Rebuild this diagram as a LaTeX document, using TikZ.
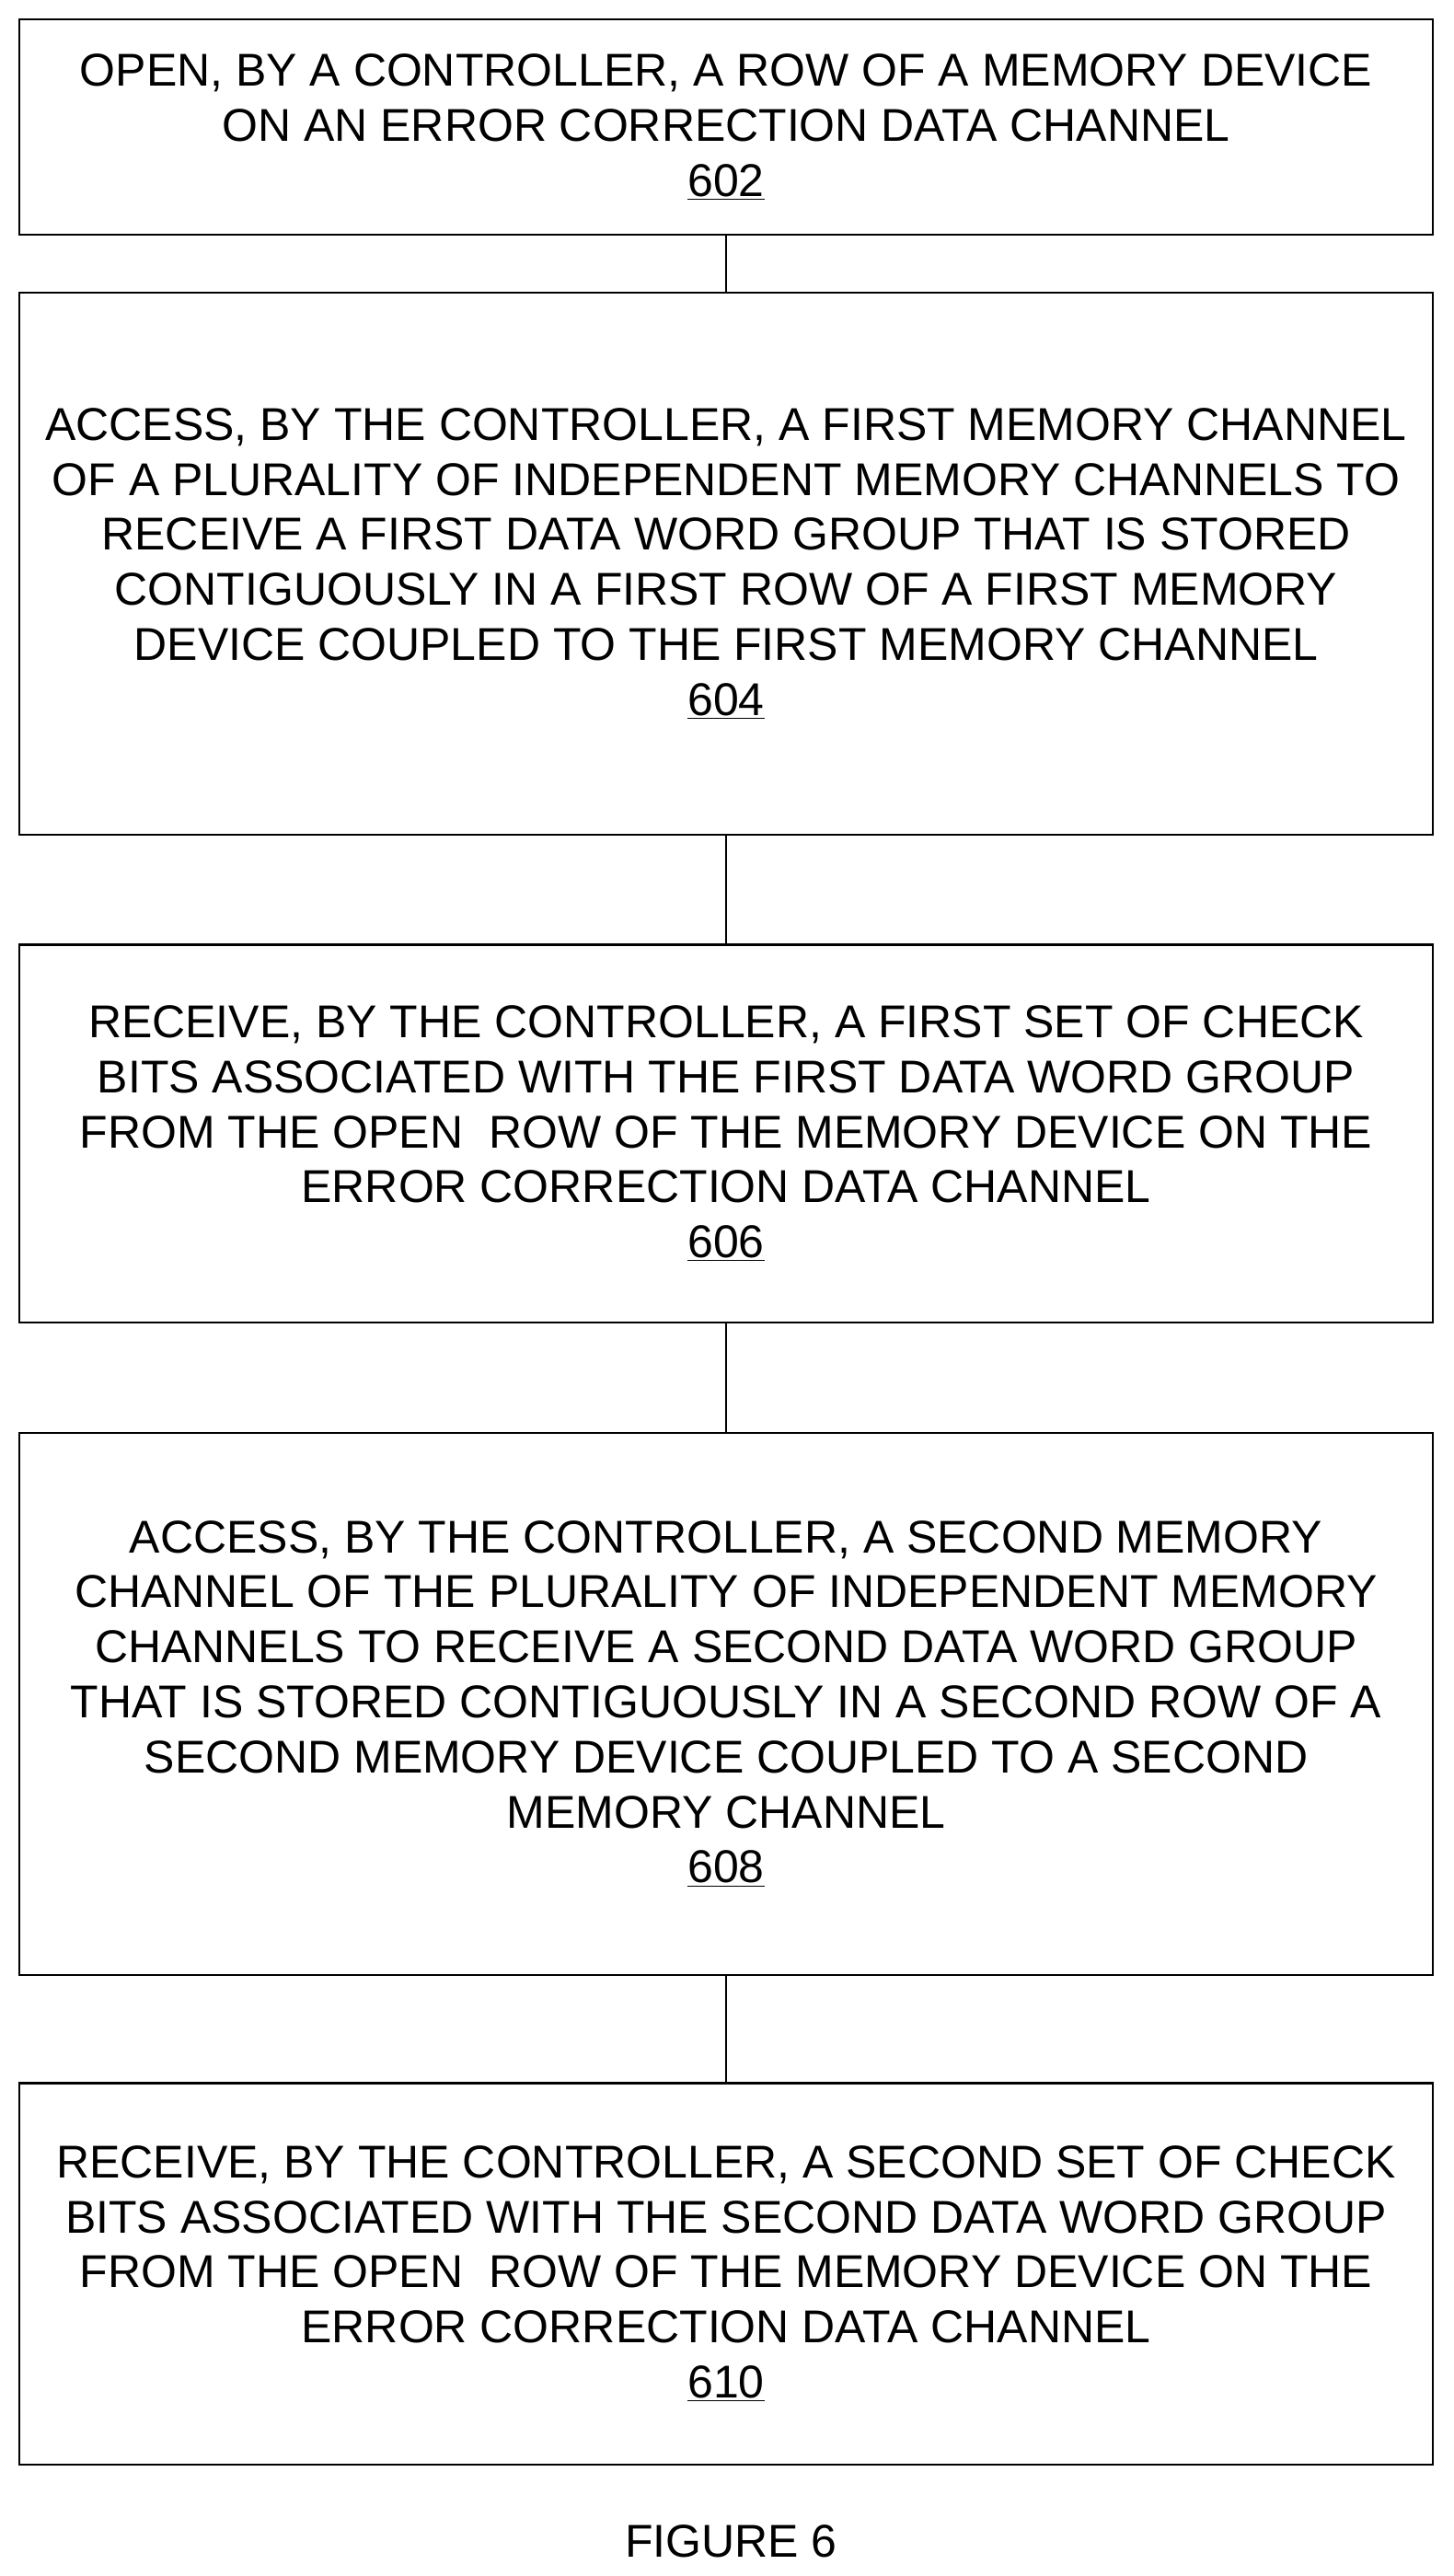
\documentclass[tikz,border=0pt]{standalone}
\usepackage{fontspec}
\setmainfont{Liberation Sans}
\usetikzlibrary{positioning}
\tikzset{
  flowbox/.style={draw, line width=1.2pt, minimum width=860pt, align=center,
    inner sep=0pt, font=\fontsize{28}{33.5}\selectfont},
  link/.style={line width=1.2pt}
}
\begin{document}
\begin{tikzpicture}[x=1pt,y=-1pt]
    \useasboundingbox (0,0) rectangle (885,1568);

    % Steps
    \node[flowbox, minimum height=131pt] (s602) at (442,77.5)
      {OPEN, BY A CONTROLLER, A ROW OF A MEMORY DEVICE\\ON AN ERROR CORRECTION DATA CHANNEL\\\underline{602}};
    \node[flowbox, minimum height=330pt] (s604) at (442,343)
      {ACCESS, BY THE CONTROLLER, A FIRST MEMORY CHANNEL\\OF A PLURALITY OF INDEPENDENT MEMORY CHANNELS TO\\RECEIVE A FIRST DATA WORD GROUP THAT IS STORED\\CONTIGUOUSLY IN A FIRST ROW OF A FIRST MEMORY\\DEVICE COUPLED TO THE FIRST MEMORY CHANNEL\\\underline{604}};
    \node[flowbox, minimum height=230pt] (s606) at (442,690)
      {RECEIVE, BY THE CONTROLLER, A FIRST SET OF CHECK\\BITS ASSOCIATED WITH THE FIRST DATA WORD GROUP\\FROM THE OPEN\ \ ROW OF THE MEMORY DEVICE ON THE\\ERROR CORRECTION DATA CHANNEL\\\underline{606}};
    \node[flowbox, minimum height=330pt] (s608) at (442,1037)
      {ACCESS, BY THE CONTROLLER, A SECOND MEMORY\\CHANNEL OF THE PLURALITY OF INDEPENDENT MEMORY\\CHANNELS TO RECEIVE A SECOND DATA WORD GROUP\\THAT IS STORED CONTIGUOUSLY IN A SECOND ROW OF A\\SECOND MEMORY DEVICE COUPLED TO A SECOND\\MEMORY CHANNEL\\\underline{608}};
    \node[flowbox, minimum height=232pt] (s610) at (442,1384)
      {RECEIVE, BY THE CONTROLLER, A SECOND SET OF CHECK\\BITS ASSOCIATED WITH THE SECOND DATA WORD GROUP\\FROM THE OPEN\ \ ROW OF THE MEMORY DEVICE ON THE\\ERROR CORRECTION DATA CHANNEL\\\underline{610}};

    % Links
    \draw[link] (s602) -- (s604);
    \draw[link] (s604) -- (s606);
    \draw[link] (s606) -- (s608);
    \draw[link] (s608) -- (s610);

    % Caption
    \node[font=\fontsize{28}{30}\selectfont] (fig) at (445,1547) {FIGURE 6};
\end{tikzpicture}
\end{document}
